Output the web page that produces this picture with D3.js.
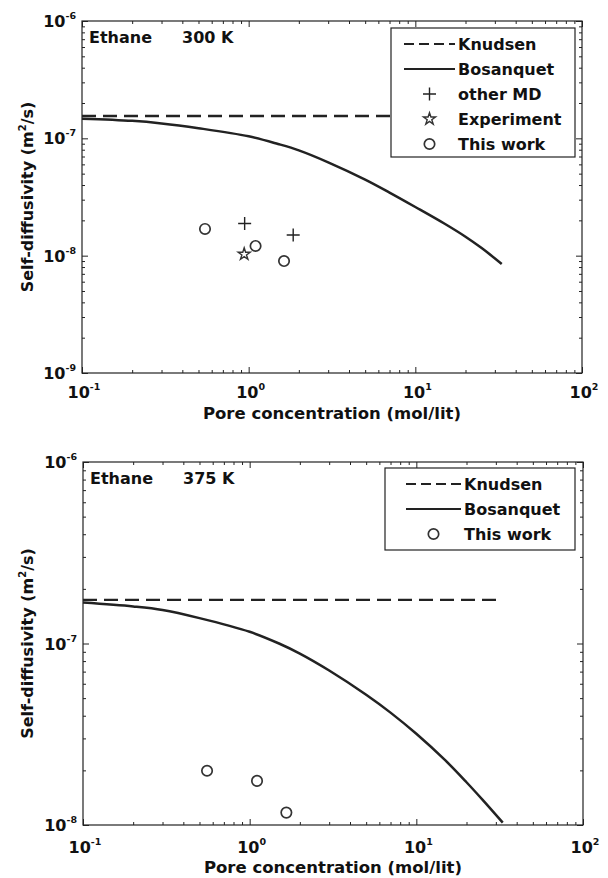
<!DOCTYPE html>
<html>
<head>
<meta charset="utf-8">
<script src="https://cdn.jsdelivr.net/npm/d3@7"></script>
<style>
  body { margin: 0; background: #fff; }
  text { font-family: "DejaVu Sans", "Liberation Sans", sans-serif; font-weight: bold; fill: #111; }
</style>
</head>
<body>
<svg id="chart" width="608" height="878"></svg>
<script>
// pore concentration (mol/lit) where the Bosanquet curve is read
const conc = [0.1, 0.2, 0.3, 0.5, 1, 1.5, 2, 3, 5, 7, 10, 15, 20, 25, 33];
const bosanquet300 = [1.47e-7, 1.41e-7, 1.34e-7, 1.22e-7, 1.04e-7, 8.95e-8, 7.9e-8, 6.25e-8, 4.45e-8, 3.45e-8, 2.6e-8, 1.87e-8, 1.45e-8, 1.16e-8, 8.5e-9];
const bosanquet375 = [1.68e-7, 1.60e-7, 1.53e-7, 1.38e-7, 1.16e-7, 1.0e-7, 8.8e-8, 7.1e-8, 5.22e-8, 4.16e-8, 3.18e-8, 2.26e-8, 1.72e-8, 1.375e-8, 1.03e-8];
const knudsenRange = [0.1, 33];
const knudsen300 = 1.55e-7;
const knudsen375 = 1.74e-7;

// MD / experiment points
const thisWork300x = [0.547, 1.10, 1.63];
const thisWork300y = [1.69e-8, 1.21e-8, 9.0e-9];
const otherMDx = [0.946, 1.85];
const otherMDy = [1.88e-8, 1.50e-8];
const experimentX = [0.94];
const experimentY = [1.03e-8];
const thisWork375x = [0.555, 1.107, 1.66];
const thisWork375y = [1.99e-8, 1.75e-8, 1.17e-8];

const xTickExp = [-1, 0, 1, 2];

const svg = d3.select("#chart");
const ink = "#222";

function panel(o) {
  const g = svg.append("g");
  const x = d3.scaleLog().domain([0.1, 100]).range([o.left, o.right]);
  const y = d3.scaleLog().domain(o.yDomain).range([o.bottom, o.top]);

  // box
  g.append("rect")
    .attr("x", o.left).attr("y", o.top)
    .attr("width", o.right - o.left).attr("height", o.bottom - o.top)
    .attr("fill", "none").attr("stroke", ink).attr("stroke-width", 1.2);

  const xMaj = xTickExp.map(e => Math.pow(10, e));
  const xMin = x.ticks().filter(v => !xMaj.some(m => Math.abs(m / v - 1) < 1e-6));
  const yExp = d3.range(Math.round(Math.log10(o.yDomain[0])), Math.round(Math.log10(o.yDomain[1])) + 1);
  const yMaj = yExp.map(e => Math.pow(10, e));
  const yMin = y.ticks().filter(v => !yMaj.some(m => Math.abs(m / v - 1) < 1e-6));

  function ticks(axis, vals, len, pos) {
    const a = g.append("g").attr("transform", pos)
      .call(axis.tickValues(vals).tickSizeInner(len).tickSizeOuter(0).tickFormat(""));
    a.select(".domain").remove();
    a.selectAll("line").attr("stroke", ink).attr("stroke-width", 1);
  }
  ticks(d3.axisBottom(x), xMaj, -6, `translate(0,${o.bottom})`);
  ticks(d3.axisBottom(x), xMin, -3, `translate(0,${o.bottom})`);
  ticks(d3.axisTop(x), xMaj, -6, `translate(0,${o.top})`);
  ticks(d3.axisTop(x), xMin, -3, `translate(0,${o.top})`);
  ticks(d3.axisLeft(y), yMaj, -6, `translate(${o.left},0)`);
  ticks(d3.axisLeft(y), yMin, -3, `translate(${o.left},0)`);
  ticks(d3.axisRight(y), yMaj, -6, `translate(${o.right},0)`);
  ticks(d3.axisRight(y), yMin, -3, `translate(${o.right},0)`);

  // tick labels 10^n
  xTickExp.forEach(e => {
    const t = g.append("text").attr("x", x(Math.pow(10, e)) + 2).attr("y", o.bottom + o.tickGap)
      .attr("text-anchor", "middle").attr("font-size", 16);
    t.append("tspan").text("10");
    t.append("tspan").attr("dy", -8).attr("font-size", 9.5).text(e);
  });
  yExp.forEach(e => {
    const t = g.append("text").attr("x", o.left - 6).attr("y", y(Math.pow(10, e)) + 6)
      .attr("text-anchor", "end").attr("font-size", 16);
    t.append("tspan").text("10");
    t.append("tspan").attr("dy", -8).attr("font-size", 9.5).text(e);
  });

  // axis titles
  g.append("text").attr("x", (o.left + o.right) / 2).attr("y", o.bottom + o.titleGap)
    .attr("text-anchor", "middle").attr("font-size", 16.5).text("Pore concentration (mol/lit)");
  const yl = g.append("text")
    .attr("transform", `translate(33,${(o.top + o.bottom) / 2}) rotate(-90)`)
    .attr("text-anchor", "middle").attr("font-size", 16);
  yl.append("tspan").text("Self-diffusivity (m");
  yl.append("tspan").attr("dy", -7).attr("font-size", 10).text("2");
  yl.append("tspan").attr("dy", 7).text("/s)");

  // curves
  const line = d3.line().x(d => x(d[0])).y(d => y(d[1])).curve(d3.curveCatmullRom.alpha(0.5));
  g.append("path").datum(knudsenRange.map(c => [c, o.knudsen]))
    .attr("d", line).attr("fill", "none").attr("stroke", ink)
    .attr("stroke-width", 2.4).attr("stroke-dasharray", "14,7");
  g.append("path").datum(conc.map((c, i) => [c, o.bosanquet[i]]))
    .attr("d", line).attr("fill", "none").attr("stroke", ink).attr("stroke-width", 2.5);

  // markers
  const sym = {
    circle: d3.symbol().type(d3.symbolCircle).size(85),
    star: d3.symbol().type(d3.symbolStar).size(45)
  };
  function drawMarker(sel, kind) {
    if (kind === "plus") {
      sel.append("path").attr("d", "M-6.5,0H6.5M0,-6.5V6.5")
        .attr("stroke", ink).attr("stroke-width", 1.4).attr("fill", "none");
    } else {
      sel.append("path").attr("d", sym[kind]())
        .attr("fill", "none").attr("stroke", "#333").attr("stroke-width", kind === "star" ? 1.4 : 1.7);
    }
  }
  o.points.forEach(p => {
    p.xs.forEach((xv, i) => {
      const m = g.append("g").attr("transform", `translate(${x(xv)},${y(p.ys[i])})`);
      drawMarker(m, p.kind);
    });
  });

  // label
  g.append("text").attr("x", o.left + 7).attr("y", o.top + 22).attr("font-size", 16).text("Ethane");
  g.append("text").attr("x", o.left + 100).attr("y", o.top + 22).attr("font-size", 16).text(o.temp);

  // legend
  const L = o.legend;
  g.append("rect").attr("x", L.x).attr("y", L.y).attr("width", L.w).attr("height", L.h)
    .attr("fill", "#fff").attr("stroke", ink).attr("stroke-width", 1.2);
  L.items.forEach((it, i) => {
    const cy = L.y + 16 + i * 25;
    if (it.kind === "dash" || it.kind === "solid") {
      g.append("line").attr("x1", L.x + L.lineX0).attr("x2", L.x + L.lineX1)
        .attr("y1", cy).attr("y2", cy).attr("stroke", ink).attr("stroke-width", 2.2)
        .attr("stroke-dasharray", it.kind === "dash" ? "10,5" : null);
    } else {
      const m = g.append("g").attr("transform", `translate(${L.x + (L.lineX0 + L.lineX1) / 2},${cy})`);
      drawMarker(m, it.kind);
    }
    g.append("text").attr("x", L.x + L.textX).attr("y", cy + 6)
      .attr("font-size", 16).text(it.label);
  });
}

panel({
  left: 82, right: 582, top: 21, bottom: 373, tickGap: 25, titleGap: 46,
  yDomain: [1e-9, 1e-6],
  knudsen: knudsen300, bosanquet: bosanquet300, temp: "300 K",
  points: [
    { kind: "circle", xs: thisWork300x, ys: thisWork300y },
    { kind: "plus", xs: otherMDx, ys: otherMDy },
    { kind: "star", xs: experimentX, ys: experimentY }
  ],
  legend: {
    x: 391, y: 28, w: 184, h: 129, lineX0: 13, lineX1: 64, textX: 67,
    items: [
      { kind: "dash", label: "Knudsen" },
      { kind: "solid", label: "Bosanquet" },
      { kind: "plus", label: "other MD" },
      { kind: "star", label: "Experiment" },
      { kind: "circle", label: "This work" }
    ]
  }
});

panel({
  left: 83, right: 583, top: 462, bottom: 825, tickGap: 28, titleGap: 48,
  yDomain: [1e-8, 1e-6],
  knudsen: knudsen375, bosanquet: bosanquet375, temp: "375 K",
  points: [
    { kind: "circle", xs: thisWork375x, ys: thisWork375y }
  ],
  legend: {
    x: 385, y: 468, w: 190, h: 82, lineX0: 21, lineX1: 76, textX: 79,
    items: [
      { kind: "dash", label: "Knudsen" },
      { kind: "solid", label: "Bosanquet" },
      { kind: "circle", label: "This work" }
    ]
  }
});
</script>
</body>
</html>
